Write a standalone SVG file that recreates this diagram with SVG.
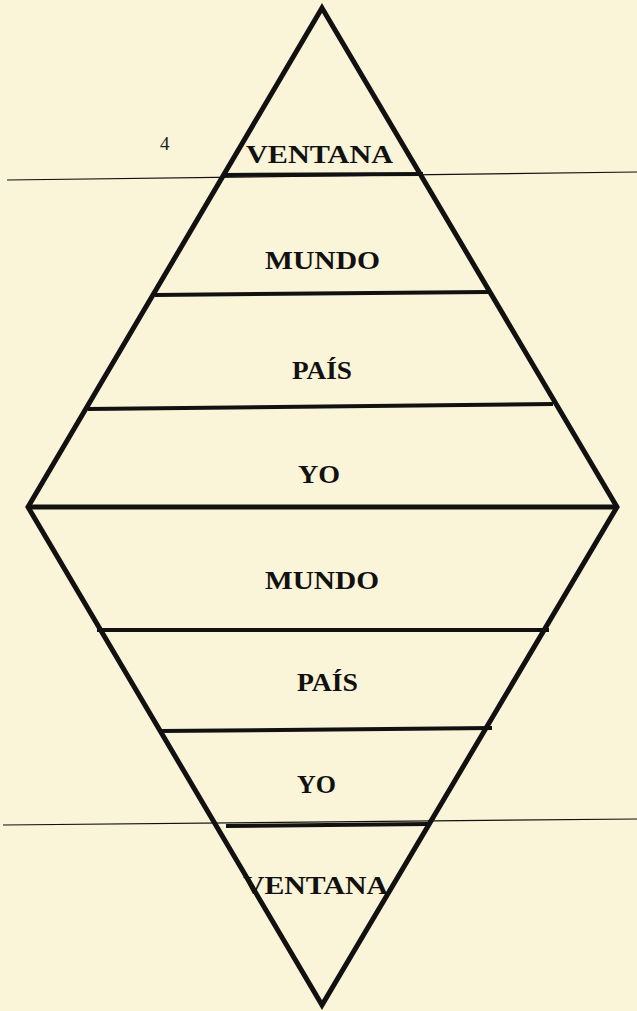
<svg xmlns="http://www.w3.org/2000/svg" width="637" height="1011" viewBox="0 0 637 1011">
<style>
.thin{stroke:#111;stroke-width:1.2;fill:none}
.thick{stroke:#111;stroke-width:5;fill:none;stroke-linejoin:miter}
.sep{stroke:#111;stroke-width:4;fill:none}
.lbl{font-family:"Liberation Serif","Times New Roman",serif;font-weight:bold;font-size:26px;fill:#111}
.num{font-family:"Liberation Serif","Times New Roman",serif;font-size:19px;fill:#222}
</style>
<rect width="637" height="1011" fill="#FAF4D8"/>
<g id="connectors">
<line class="thin" x1="7" y1="180" x2="637" y2="172"/>
<line class="thin" x1="3" y1="825" x2="637" y2="819"/>
<line class="sep" x1="224" y1="175" x2="423" y2="174"/>
<line class="sep" x1="155" y1="295" x2="488" y2="292"/>
<line class="sep" x1="88" y1="409" x2="553" y2="404"/>
<line class="thick" x1="28" y1="507" x2="617" y2="507"/>
<line class="sep" x1="97" y1="630" x2="549" y2="630"/>
<line class="sep" x1="160" y1="731" x2="492" y2="728"/>
<line class="sep" x1="226" y1="826" x2="428" y2="824"/>
</g>
<g id="diamond">
<polygon class="thick" points="322,8 617,507 322,1005 28,507"/>
</g>
<g id="n-ventana-top"><text class="lbl" x="246" y="163" textLength="147" lengthAdjust="spacingAndGlyphs">VENTANA</text></g>
<g id="n-mundo-top"><text class="lbl" x="265" y="269" textLength="115" lengthAdjust="spacingAndGlyphs">MUNDO</text></g>
<g id="n-pais-top"><text class="lbl" x="292" y="379" textLength="60" lengthAdjust="spacingAndGlyphs">PAÍS</text></g>
<g id="n-yo-top"><text class="lbl" x="298" y="483" textLength="42" lengthAdjust="spacingAndGlyphs">YO</text></g>
<g id="n-mundo-bottom"><text class="lbl" x="265" y="589" textLength="114" lengthAdjust="spacingAndGlyphs">MUNDO</text></g>
<g id="n-pais-bottom"><text class="lbl" x="297" y="691" textLength="61" lengthAdjust="spacingAndGlyphs">PAÍS</text></g>
<g id="n-yo-bottom"><text class="lbl" x="297" y="793" textLength="39" lengthAdjust="spacingAndGlyphs">YO</text></g>
<g id="n-ventana-bottom"><text class="lbl" x="243" y="894" textLength="145" lengthAdjust="spacingAndGlyphs">VENTANA</text></g>
<g id="page-num"><text class="num" x="160" y="150">4</text></g>
</svg>
